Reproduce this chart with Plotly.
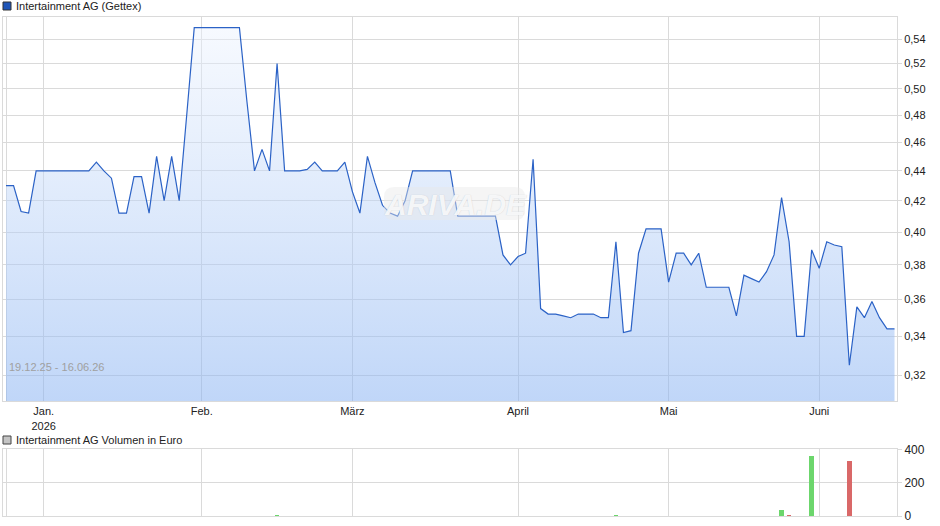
import numpy as np
import pandas as pd
import plotly.graph_objects as go

# ---------------- data ----------------
holidays = ["2025-12-24", "2025-12-25", "2025-12-26", "2025-12-31", "2026-01-01",
            "2026-04-03", "2026-04-06", "2026-05-01"]
trade_dates = pd.bdate_range("2025-12-19", "2026-06-15", freq="C", holidays=holidays)
dates = list(trade_dates.strftime("%Y-%m-%d"))

prices = [
    0.430, 0.430, 0.413, 0.412, 0.440, 0.440, 0.440, 0.440, 0.440, 0.440,
    0.440, 0.440, 0.446, 0.440, 0.435, 0.412, 0.412, 0.436, 0.436, 0.412,
    0.450, 0.420, 0.450, 0.420, 0.480, 0.550, 0.550, 0.550, 0.550, 0.550,
    0.550, 0.550, 0.490, 0.440, 0.455, 0.440, 0.520, 0.440, 0.440, 0.440,
    0.441, 0.446, 0.440, 0.440, 0.440, 0.446, 0.426, 0.412, 0.450, 0.432,
    0.417, 0.412, 0.410, 0.420, 0.440, 0.440, 0.440, 0.440, 0.440, 0.440,
    0.410, 0.410, 0.410, 0.410, 0.410, 0.410, 0.386, 0.380, 0.385, 0.387,
    0.448, 0.355, 0.352, 0.352, 0.351, 0.350, 0.352, 0.352, 0.352, 0.350,
    0.350, 0.394, 0.342, 0.343, 0.387, 0.402, 0.402, 0.402, 0.370, 0.387,
    0.387, 0.380, 0.387, 0.367, 0.367, 0.367, 0.367, 0.351, 0.374, 0.372,
    0.370, 0.376, 0.386, 0.422, 0.394, 0.340, 0.340, 0.389, 0.378, 0.394,
    0.392, 0.391, 0.325, 0.356, 0.350, 0.359, 0.350, 0.344, 0.344,
]

vol_dates = ["2026-02-16", "2026-04-22", "2026-05-25", "2026-05-26", "2026-05-29", "2026-06-05"]
vol_values = [8, 6, 36, 3, 360, 330]

month_labels = ["Jan.<br>2026", "Feb.", "März", "April", "Mai", "Juni"]
price_ticks = [0.32, 0.34, 0.36, 0.38, 0.40, 0.42, 0.44, 0.46, 0.48, 0.50, 0.52, 0.54]
vol_ticks = [0, 200, 400]

# ---------------- derived ----------------
vol_colors = []
for d in vol_dates:
    i = dates.index(d)
    vol_colors.append("#6cd66c" if prices[i] >= prices[i - 1] else "#d96868")

month_first = []
seen = set()
for d in dates:
    m = d[:7]
    if m not in seen:
        seen.add(m)
        month_first.append(d)
tick_vals = [dates[0]] + month_first[1:]
tick_text = [""] + month_labels

# ---------------- layout helpers ----------------
W, H = 940, 526
def px(x):
    return x / W
def py(y):
    return 1 - y / H

GRID = "#dadada"
TXT = "#222222"
FONT = "Liberation Sans, Arial, sans-serif"

y_lo, y_hi = 0.3074, 0.5592

fig = go.Figure()

fig.add_trace(go.Scatter(
    x=dates, y=prices, mode="lines",
    line=dict(color="#2b62c6", width=1.2),
    fill="tozeroy",
    fillgradient=dict(type="vertical",
                      colorscale=[[0, "rgba(136,178,242,0.53)"], [1, "rgba(236,243,254,0.45)"]],
                      start=y_lo, stop=0.55),
    xaxis="x", yaxis="y", hoverinfo="skip", showlegend=False,
))

fig.add_trace(go.Bar(
    x=vol_dates, y=vol_values, marker=dict(color=vol_colors, line=dict(width=0)),
    width=0.62, xaxis="x2", yaxis="y2", showlegend=False, hoverinfo="skip",
))

xcommon = dict(
    type="category", categoryorder="array", categoryarray=dates,
    range=[-0.4, len(dates) - 1 + 0.33],
    tickmode="array", tickvals=tick_vals, ticktext=tick_text,
    showgrid=True, gridcolor=GRID, gridwidth=1,
    showline=True, linecolor=GRID, linewidth=1, mirror=True,
    zeroline=False, ticks="", automargin=False,
    domain=[px(3), px(897)],
    tickfont=dict(family=FONT, size=11, color=TXT),
)

fig.update_layout(
    width=W, height=H,
    margin=dict(l=0, r=0, t=0, b=0),
    paper_bgcolor="white", plot_bgcolor="white",
    separators=",.",
    font=dict(family=FONT, size=11, color=TXT),
    bargap=0,
    xaxis=dict(**xcommon, anchor="y"),
    xaxis2=dict(**{**xcommon, "showticklabels": False}, anchor="y2"),
    yaxis=dict(
        type="log", side="right", anchor="x",
        range=[np.log10(y_lo), np.log10(y_hi)],
        domain=[py(401), py(17)],
        tickmode="array", tickvals=price_ticks, tickformat=".2f",
        showgrid=True, gridcolor=GRID, showline=True, linecolor=GRID, mirror=True,
        ticks="outside", ticklen=4, tickcolor=GRID, zeroline=False, automargin=False,
        tickfont=dict(family=FONT, size=11, color=TXT),
    ),
    yaxis2=dict(
        side="right", anchor="x2",
        range=[0, 400], domain=[py(516), py(449.3)],
        tickmode="array", tickvals=vol_ticks,
        showgrid=True, gridcolor=GRID, showline=True, linecolor=GRID, mirror=True,
        ticks="outside", ticklen=4, tickcolor=GRID, zeroline=False, automargin=False,
        tickfont=dict(family=FONT, size=12, color=TXT),
    ),
)

shapes = []
annotations = []

# legend squares + titles
shapes.append(dict(type="rect", xref="paper", yref="paper",
                   x0=px(3), x1=px(11), y0=py(10), y1=py(2),
                   fillcolor="#1f55b8", line=dict(color="#333333", width=1)))
annotations.append(dict(text="Intertainment AG (Gettex)", xref="paper", yref="paper",
                        x=px(14), y=py(6), xanchor="left", yanchor="middle", showarrow=False,
                        font=dict(family=FONT, size=11, color=TXT)))
shapes.append(dict(type="rect", xref="paper", yref="paper",
                   x0=px(3), x1=px(11), y0=py(444), y1=py(436),
                   fillcolor="#c4c4c4", line=dict(color="#444444", width=1)))
annotations.append(dict(text="Intertainment AG Volumen in Euro", xref="paper", yref="paper",
                        x=px(14), y=py(440), xanchor="left", yanchor="middle", showarrow=False,
                        font=dict(family=FONT, size=11, color=TXT)))

# date range text
annotations.append(dict(text="19.12.25 - 16.06.26", xref="paper", yref="paper",
                        x=px(7), y=py(367), xanchor="left", yanchor="middle", showarrow=False,
                        font=dict(family=FONT, size=11, color="#a0a0a0")))

# watermark
x0, x1, y0, y1, r = px(384), px(525), py(220), py(187), 10
rx, ry = r / W, r / H
path = (f"M {x0+rx},{y0} L {x1-rx},{y0} Q {x1},{y0} {x1},{y0+ry} L {x1},{y1-ry} "
        f"Q {x1},{y1} {x1-rx},{y1} L {x0+rx},{y1} Q {x0},{y1} {x0},{y1-ry} "
        f"L {x0},{y0+ry} Q {x0},{y0} {x0+rx},{y0} Z")
shapes.append(dict(type="path", xref="paper", yref="paper", path=path,
                   fillcolor="rgba(232,232,232,0.45)", line=dict(width=0), layer="above"))
annotations.append(dict(text="<b><i>ARIVA.DE</i></b>", xref="paper", yref="paper",
                        x=px(455), y=py(204), xanchor="center", yanchor="middle", showarrow=False,
                        font=dict(family=FONT, size=30, color="rgba(255,255,255,0.85)",
                                  shadow="0px 0px 1px rgba(160,170,185,0.7)")))

fig.update_layout(shapes=shapes, annotations=annotations)

fig.write_html("out.html",
               config={"displayModeBar": False, "staticPlot": True},
               post_script="document.body.style.margin='0';document.body.style.padding='0';")
